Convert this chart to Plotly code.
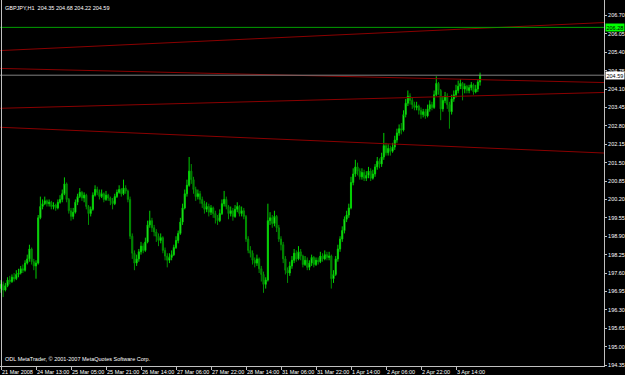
import plotly.graph_objects as go

# ---------------- data ----------------
first_open = 197.05
closes = [
197.20,197.00,197.15,197.35,197.30,197.45,197.40,197.55,197.60,197.75,
197.70,197.95,198.10,198.45,198.00,197.85,197.95,199.55,199.95,200.05,
200.15,200.05,200.10,199.95,200.00,199.90,200.10,200.20,200.40,200.75,
200.20,199.80,199.60,199.75,200.10,200.30,200.45,200.25,200.35,199.95,
199.70,199.85,200.35,200.55,200.45,200.30,200.40,200.20,200.35,200.25,
200.15,200.05,200.30,200.45,200.55,200.40,200.60,200.50,200.20,198.90,
198.30,197.95,198.10,198.35,198.55,198.40,198.70,199.30,199.45,199.20,
199.05,198.90,198.75,198.85,198.40,198.20,198.05,198.15,198.25,198.50,
198.75,199.00,199.40,199.90,200.40,200.70,201.20,200.90,200.55,200.30,
200.40,200.20,200.05,199.85,199.95,199.75,199.90,199.70,199.55,199.45,
199.70,200.05,200.20,199.95,199.70,199.80,199.60,199.85,199.95,199.70,
199.80,199.60,198.80,198.40,198.30,198.05,197.95,198.10,197.75,197.55,
197.20,197.35,199.45,199.55,199.35,199.60,199.20,198.80,198.60,198.10,
197.70,197.60,197.85,198.05,198.30,198.10,198.35,198.20,197.90,198.05,
197.80,197.95,198.15,197.90,198.05,198.00,198.20,198.10,198.25,198.15,
198.20,197.40,197.55,198.10,198.45,198.80,199.10,199.50,199.65,199.90,
200.80,201.10,201.35,201.20,201.00,201.15,200.95,201.05,201.20,200.95,
201.10,201.35,201.55,201.45,201.70,202.10,201.85,202.00,201.90,202.05,
202.30,202.55,202.70,202.65,203.20,203.60,203.85,203.70,203.55,203.45,
203.50,203.35,203.20,203.30,203.15,203.40,203.55,203.45,203.90,204.30,
204.05,203.40,203.70,203.85,203.55,203.30,203.75,203.90,204.05,204.20,
204.30,204.10,204.20,204.05,204.15,204.25,204.00,204.10,204.35,204.59]
highs = [
197.35,197.30,197.25,197.45,197.50,197.55,197.60,197.70,197.75,197.85,
197.90,198.05,198.25,198.60,198.50,198.10,198.05,199.65,200.30,200.20,
200.30,200.20,200.20,200.15,200.10,200.05,200.20,200.35,200.55,200.98,
200.80,200.25,199.90,199.90,200.20,200.40,200.60,200.50,200.45,200.40,
200.00,199.95,200.45,200.70,200.65,200.55,200.55,200.45,200.50,200.40,
200.30,200.25,200.40,200.55,200.70,200.60,200.90,200.70,200.55,200.30,
199.00,198.40,198.25,198.45,198.70,198.65,198.85,199.45,199.80,199.55,
199.30,199.15,199.00,199.00,198.90,198.50,198.30,198.30,198.40,198.60,
198.90,199.10,199.55,200.05,200.55,200.90,201.70,201.45,201.00,200.65,
200.55,200.50,200.30,200.15,200.10,200.05,200.00,199.95,199.80,199.65,
199.85,200.20,200.50,200.30,200.00,199.95,199.90,200.00,200.10,200.00,
199.95,199.90,199.65,198.90,198.55,198.40,198.15,198.25,198.15,197.85,
197.65,197.45,200.05,199.75,199.65,199.80,199.65,199.30,198.90,198.70,
198.20,197.80,198.00,198.20,198.45,198.40,198.55,198.45,198.25,198.20,
198.15,198.05,198.25,198.20,198.15,198.15,198.35,198.30,198.40,198.35,
198.35,198.25,197.70,198.20,198.60,198.90,199.25,199.60,199.80,200.05,
201.00,201.30,201.60,201.50,201.30,201.30,201.25,201.20,201.35,201.30,
201.25,201.45,201.70,201.65,201.85,202.55,202.20,202.15,202.10,202.20,
202.45,202.70,202.85,202.90,203.35,203.75,204.05,203.95,203.80,203.65,
203.65,203.55,203.45,203.40,203.40,203.55,203.70,203.65,204.05,204.55,
204.35,204.10,203.85,204.00,203.95,203.65,203.90,204.05,204.25,204.40,
204.45,204.35,204.30,204.25,204.25,204.35,204.30,204.25,204.45,204.68]
lows = [
196.90,196.75,196.95,197.10,197.20,197.25,197.30,197.35,197.45,197.55,
197.60,197.65,197.90,198.00,197.90,197.70,197.40,197.90,199.50,199.85,
200.00,199.95,199.95,199.85,199.85,199.80,199.85,200.05,200.10,200.35,
200.10,199.70,199.45,199.50,199.70,200.00,200.25,200.15,200.10,199.85,
199.30,199.60,199.80,200.30,200.35,200.20,200.25,200.10,200.15,200.15,
200.00,199.85,200.00,200.25,200.40,200.30,200.35,200.40,200.10,198.80,
198.10,197.70,197.85,198.00,198.25,198.30,198.35,198.65,199.20,199.05,
198.90,198.70,198.55,198.65,198.30,198.05,197.80,197.95,198.05,198.20,
198.45,198.65,198.95,199.30,199.85,200.30,200.65,200.75,200.40,200.15,
200.20,200.05,199.90,199.70,199.75,199.60,199.65,199.55,199.35,199.30,
199.40,199.65,199.95,199.85,199.50,199.60,199.45,199.55,199.75,199.60,
199.60,199.50,198.70,198.30,198.15,197.90,197.80,197.85,197.60,197.30,
196.90,197.05,197.30,199.30,199.20,199.25,199.05,198.70,198.40,197.95,
197.55,197.25,197.50,197.75,197.95,198.00,198.05,198.05,197.80,197.85,
197.70,197.70,197.85,197.80,197.85,197.90,197.95,198.00,198.05,198.05,
198.05,197.05,197.25,197.50,198.00,198.35,198.70,199.00,199.40,199.55,
199.85,200.70,201.00,201.05,200.90,200.90,200.85,200.85,200.95,200.85,
200.90,201.00,201.25,201.30,201.35,201.60,201.75,201.75,201.75,201.85,
201.95,202.20,202.45,202.50,202.60,203.10,203.50,203.55,203.40,203.35,
203.35,203.20,203.05,203.10,203.05,203.10,203.30,203.35,203.40,203.85,
203.90,203.00,203.30,203.60,203.40,202.70,203.20,203.65,203.80,203.95,
204.10,203.70,203.95,203.95,203.95,204.05,203.90,203.95,204.00,204.22]
opens = [first_open] + closes[:-1]
bar_index = list(range(len(closes)))

date_labels = ["21 Mar 2008", "24 Mar 13:00", "25 Mar 05:00", "25 Mar 21:00",
               "26 Mar 14:00", "27 Mar 06:00", "27 Mar 22:00", "28 Mar 14:00",
               "31 Mar 06:00", "31 Mar 22:00", "1 Apr 14:00", "2 Apr 06:00",
               "2 Apr 22:00", "3 Apr 14:00"]
date_label_bars = [0, 16, 32, 48, 64, 80, 96, 112, 128, 144, 160, 176, 192, 208]

price_ticks = [194.35, 195.00, 195.65, 196.30, 196.95, 197.60, 198.25, 198.90,
               199.55, 200.20, 200.85, 201.50, 202.15, 202.80, 203.45, 204.10,
               204.75, 205.40, 206.05, 206.70]

# trend lines: price at left edge and at right edge of the chart
trend_left = [205.46, 204.83, 203.42, 202.75]
trend_right = [206.45, 204.33, 203.98, 201.84]
level_price = 206.28
bid_price = 204.59
ohlc_title = "GBPJPY,H1  204.35 204.68 204.22 204.59"

# ---------------- figure ----------------
X_RANGE = [-0.46, 275.66]
Y_RANGE = [194.315, 207.247]
FONT = "Liberation Sans"
FS = 5.5

fig = go.Figure()

for a, b in zip(trend_left, trend_right):
    fig.add_trace(go.Scatter(x=X_RANGE, y=[a, b], mode="lines",
                             line=dict(color="#8a0000", width=1),
                             hoverinfo="skip", showlegend=False))

fig.add_trace(go.Candlestick(
    x=bar_index, open=opens, high=highs, low=lows, close=closes,
    increasing=dict(line=dict(color="#00d000", width=1), fillcolor="#66ff66"),
    decreasing=dict(line=dict(color="#009000", width=1), fillcolor="#006400"),
    whiskerwidth=0, showlegend=False, hoverinfo="skip"))

fig.add_shape(type="line", xref="paper", x0=0, x1=1, yref="y",
              y0=level_price, y1=level_price, line=dict(color="#00a000", width=1))
fig.add_shape(type="line", xref="paper", x0=0, x1=1, yref="y",
              y0=bid_price, y1=bid_price, line=dict(color="#808080", width=1))
fig.add_shape(type="line", xref="paper", x0=0.0025, x1=0.0025, yref="paper",
              y0=0, y1=1, line=dict(color="#c0c0c0", width=1))

fig.add_annotation(xref="paper", yref="y", x=1.0, y=level_price, xanchor="left",
                   text="%.2f" % level_price, showarrow=False, bgcolor="#00ff00",
                   font=dict(family=FONT, size=FS, color="#000000"), borderpad=0.5,
                   xshift=1)
fig.add_annotation(xref="paper", yref="y", x=1.0, y=bid_price, xanchor="left",
                   text="%.2f" % bid_price, showarrow=False, bgcolor="#ffffff",
                   font=dict(family=FONT, size=FS, color="#000000"), borderpad=0.5,
                   xshift=1)
fig.add_annotation(xref="paper", yref="paper", x=0, y=1, xanchor="left", yanchor="top",
                   text=ohlc_title, showarrow=False, xshift=3, yshift=-3,
                   font=dict(family=FONT, size=FS, color="#ffffff"))
fig.add_annotation(xref="paper", yref="paper", x=0, y=0, xanchor="left", yanchor="bottom",
                   text="ODL MetaTrader, © 2001-2007 MetaQuotes Software Corp.",
                   showarrow=False, xshift=3, yshift=2,
                   font=dict(family=FONT, size=FS, color="#ffffff"))

fig.update_layout(
    width=625, height=375,
    margin=dict(l=0, r=21, t=0, b=9, pad=0, autoexpand=False),
    paper_bgcolor="#000000", plot_bgcolor="#000000",
    font=dict(family=FONT, size=FS, color="#ffffff"),
    showlegend=False,
    xaxis=dict(range=X_RANGE, rangeslider=dict(visible=False),
               tickmode="array", tickvals=date_label_bars, ticktext=date_labels,
               tickangle=0, automargin=False,
               ticks="outside", ticklen=3, tickcolor="#c0c0c0",
               ticklabelposition="outside right",
               showline=True, linecolor="#c0c0c0", linewidth=1,
               showgrid=False, zeroline=False,
               tickfont=dict(family=FONT, size=FS, color="#ffffff")),
    yaxis=dict(range=Y_RANGE, side="right", tickmode="array", automargin=False,
               tickvals=price_ticks, ticktext=["%.2f" % v for v in price_ticks],
               ticks="outside", ticklen=2, tickcolor="#c0c0c0",
               showline=True, linecolor="#c0c0c0", linewidth=1,
               showgrid=False, zeroline=False,
               tickfont=dict(family=FONT, size=FS, color="#ffffff")),
)

fig.write_html("out.html")
